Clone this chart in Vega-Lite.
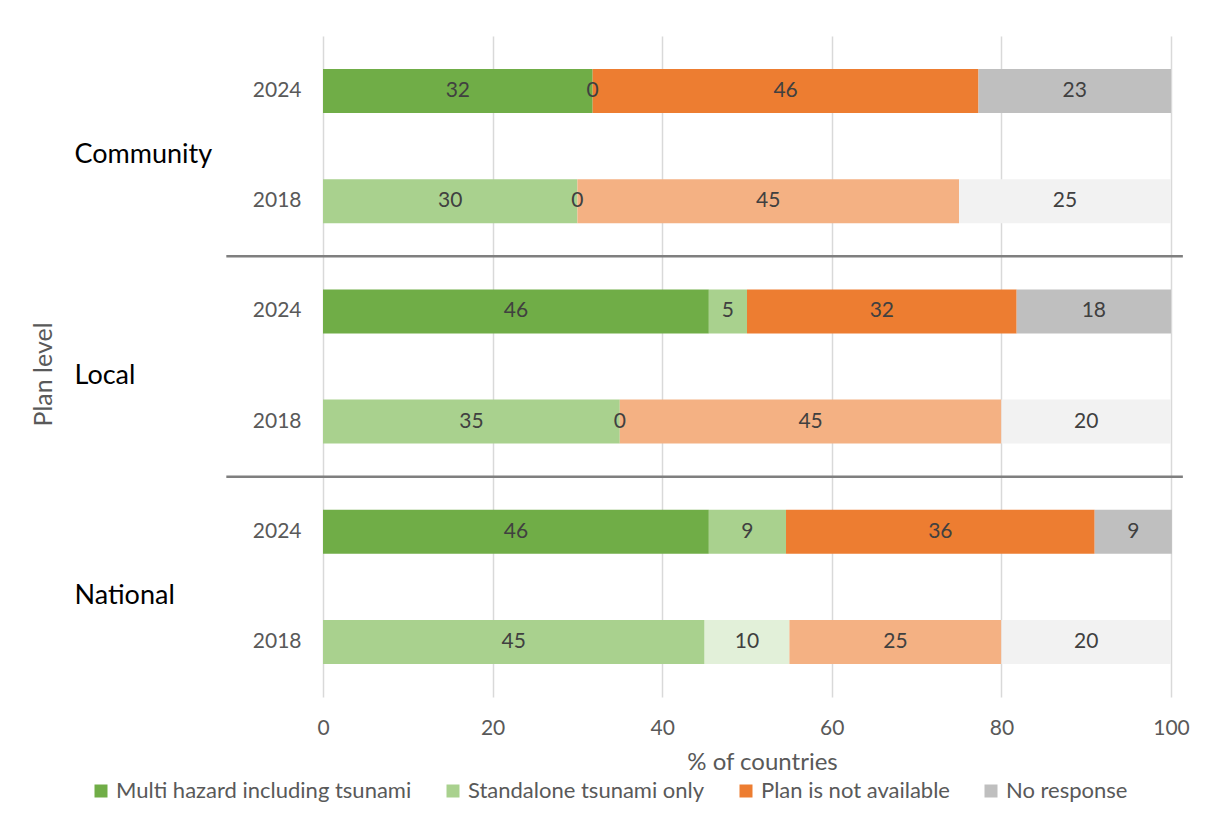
{
  "$schema": "https://vega.github.io/schema/vega-lite/v6.json",
  "width": 848,
  "height": 661,
  "autosize": {"type": "none"},
  "padding": {"left": 323, "top": 36, "right": 44, "bottom": 126},
  "background": "white",
  "config": {
    "font": "Lato",
    "view": {"stroke": null}
  },
  "resolve": {"scale": {"y": "independent"}, "axis": {"y": "independent"}},
  "layer": [
    {
      "data": {
        "values": [
          {"group": "Community", "year": "2024", "cat": "Multi hazard including tsunami", "value": 31.8},
          {"group": "Community", "year": "2024", "cat": "Standalone tsunami only", "value": 0},
          {"group": "Community", "year": "2024", "cat": "Plan is not available", "value": 45.5},
          {"group": "Community", "year": "2024", "cat": "No response", "value": 22.7},
          {"group": "Community", "year": "2018", "cat": "Multi hazard including tsunami", "value": 30},
          {"group": "Community", "year": "2018", "cat": "Standalone tsunami only", "value": 0},
          {"group": "Community", "year": "2018", "cat": "Plan is not available", "value": 45},
          {"group": "Community", "year": "2018", "cat": "No response", "value": 25},
          {"group": "Local", "year": "2024", "cat": "Multi hazard including tsunami", "value": 45.5},
          {"group": "Local", "year": "2024", "cat": "Standalone tsunami only", "value": 4.5},
          {"group": "Local", "year": "2024", "cat": "Plan is not available", "value": 31.8},
          {"group": "Local", "year": "2024", "cat": "No response", "value": 18.2},
          {"group": "Local", "year": "2018", "cat": "Multi hazard including tsunami", "value": 35},
          {"group": "Local", "year": "2018", "cat": "Standalone tsunami only", "value": 0},
          {"group": "Local", "year": "2018", "cat": "Plan is not available", "value": 45},
          {"group": "Local", "year": "2018", "cat": "No response", "value": 20},
          {"group": "National", "year": "2024", "cat": "Multi hazard including tsunami", "value": 45.5},
          {"group": "National", "year": "2024", "cat": "Standalone tsunami only", "value": 9.1},
          {"group": "National", "year": "2024", "cat": "Plan is not available", "value": 36.4},
          {"group": "National", "year": "2024", "cat": "No response", "value": 9.1},
          {"group": "National", "year": "2018", "cat": "Multi hazard including tsunami", "value": 45},
          {"group": "National", "year": "2018", "cat": "Standalone tsunami only", "value": 10},
          {"group": "National", "year": "2018", "cat": "Plan is not available", "value": 25},
          {"group": "National", "year": "2018", "cat": "No response", "value": 20}
        ]
      },
      "transform": [
        {"calculate": "datum.group + '|' + datum.year", "as": "key"},
        {"calculate": "datum.year == '2024' ? datum.cat : datum.cat + ' (2018)'", "as": "series"},
        {"calculate": "indexof(['Multi hazard including tsunami','Standalone tsunami only','Plan is not available','No response'], datum.cat)", "as": "ord"},
        {"stack": "value", "groupby": ["key"], "sort": [{"field": "ord", "order": "ascending"}], "as": ["x0", "x1"]},
        {"calculate": "(datum.x0 + datum.x1) / 2", "as": "mid"}
      ],
      "encoding": {
        "y": {
          "field": "key",
          "type": "nominal",
          "scale": {
            "domain": ["Community|2024", "Community|2018", "Local|2024", "Local|2018", "National|2024", "National|2018"],
            "paddingInner": 0.6,
            "paddingOuter": 0.3
          },
          "axis": {
            "orient": "left",
            "title": null,
            "labelExpr": "split(datum.value, '|')[1]",
            "labelFontSize": 21,
            "labelColor": "#595959",
            "labelPadding": 22,
            "ticks": false,
            "tickSize": 0,
            "domain": false,
            "grid": false
          }
        }
      },
      "layer": [
        {
          "mark": {"type": "bar"},
          "encoding": {
            "x": {
              "field": "x0",
              "type": "quantitative",
              "scale": {"domain": [0, 100], "nice": false},
              "axis": {
                "values": [0, 20, 40, 60, 80, 100],
                "grid": true,
                "gridColor": "#D9D9D9",
                "gridWidth": 1.5,
                "domain": false,
                "ticks": false,
                "tickSize": 0,
                "labelFlush": false,
                "labelFontSize": 21,
                "labelColor": "#595959",
                "labelPadding": 20,
                "title": "% of countries",
                "titleFontSize": 24,
                "titleFontWeight": "normal",
                "titleColor": "#595959",
                "titleX": 439,
                "titleY": 65,
                "titleBaseline": "middle"
              }
            },
            "x2": {"field": "x1"},
            "color": {
              "field": "series",
              "type": "nominal",
              "scale": {
                "domain": [
                  "Multi hazard including tsunami",
                  "Standalone tsunami only",
                  "Plan is not available",
                  "No response",
                  "Multi hazard including tsunami (2018)",
                  "Standalone tsunami only (2018)",
                  "Plan is not available (2018)",
                  "No response (2018)"
                ],
                "range": ["#70AD47", "#A9D18E", "#ED7D31", "#BFBFBF", "#A9D18E", "#E2F0D9", "#F4B183", "#F2F2F2"]
              },
              "legend": {
                "values": ["Multi hazard including tsunami", "Standalone tsunami only", "Plan is not available", "No response"],
                "title": null,
                "orient": "none",
                "direction": "horizontal",
                "legendX": -233,
                "legendY": 744,
                "symbolType": "square",
                "symbolSize": 169,
                "symbolStrokeWidth": 0,
                "labelFontSize": 22,
                "labelLimit": 0,
                "labelColor": "#595959",
                "labelOffset": 4,
                "columnPadding": 30
              }
            }
          }
        },
        {
          "mark": {"type": "text", "fontSize": 21, "color": "#404040"},
          "encoding": {
            "x": {"field": "mid", "type": "quantitative"},
            "text": {"field": "value", "type": "quantitative", "format": ".0f"}
          }
        }
      ]
    },
    {
      "data": {"values": [{"group": "Community"}, {"group": "Local"}]},
      "mark": {"type": "rule", "color": "#7F7F7F", "strokeWidth": 2.5},
      "encoding": {
        "y": {
          "field": "group",
          "type": "nominal",
          "bandPosition": 1,
          "scale": {"domain": ["Community", "Local", "National"], "paddingInner": 0, "paddingOuter": 0},
          "axis": {
            "orient": "left",
            "offset": 249,
            "labelAlign": "left",
            "labelFontSize": 27,
            "labelColor": "#000000",
            "labelPadding": 0,
            "labelOffset": 9,
            "ticks": false,
            "tickSize": 0,
            "domain": false,
            "grid": false,
            "title": "Plan level",
            "titleFontSize": 25,
            "titleFontWeight": "normal",
            "titleColor": "#595959",
            "titleAngle": -90,
            "titleX": -31,
            "titleY": 338,
            "titleAlign": "center",
            "titleBaseline": "middle"
          }
        },
        "x": {"datum": -11.4, "type": "quantitative", "scale": {"domain": [0, 100], "nice": false}},
        "x2": {"datum": 101.4}
      }
    }
  ]
}
